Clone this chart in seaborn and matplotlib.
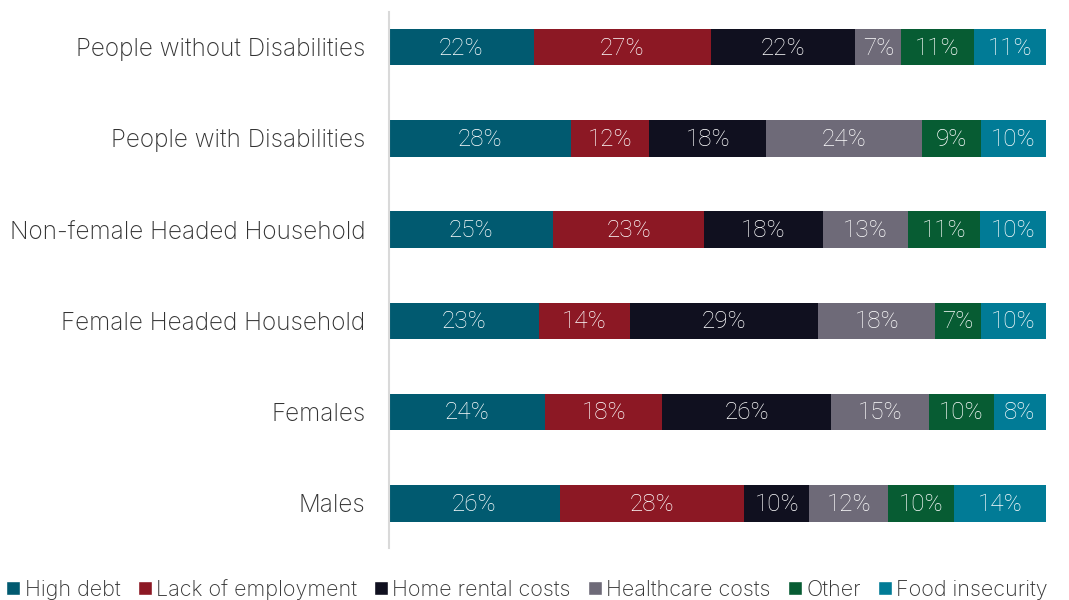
import matplotlib
matplotlib.use("Agg")
import matplotlib.pyplot as plt
import seaborn as sns
import pandas as pd
import numpy as np
from matplotlib.patches import Patch

groups = ["People without Disabilities", "People with Disabilities",
          "Non-female Headed Household", "Female Headed Household",
          "Females", "Males"]
series = ["High debt", "Lack of employment", "Home rental costs",
          "Healthcare costs", "Other", "Food insecurity"]
high_debt = [22, 28, 25, 23, 24, 26]
lack_employment = [27, 12, 23, 14, 18, 28]
home_rental = [22, 18, 18, 29, 26, 10]
healthcare = [7, 24, 13, 18, 15, 12]
other = [11, 9, 11, 7, 10, 10]
food_insecurity = [11, 10, 10, 10, 8, 14]
colors = ["#015a70", "#8c1824", "#10101f", "#6e6a78", "#075c33", "#017b96"]

sns.set_theme(style="white")
plt.rcParams['font.family'] = ['Inter', 'DejaVu Sans']

df = pd.DataFrame({"group": groups, "High debt": high_debt,
                   "Lack of employment": lack_employment,
                   "Home rental costs": home_rental,
                   "Healthcare costs": healthcare, "Other": other,
                   "Food insecurity": food_insecurity})
vals = df[series]
shares = vals.div(vals.sum(axis=1), axis=0) * 100

fig = plt.figure(figsize=(10.69, 6.0), dpi=100)
ax = fig.add_axes([389/1069, 52/600, 657/1069, 536/600])

left = np.zeros(len(groups))
for s, c in zip(series, colors):
    d = pd.DataFrame({"group": groups, "w": shares[s].values, "left": left})
    sns.barplot(data=d, x="w", y="group", left=d["left"], color=c,
                width=0.4, ax=ax, orient="h", saturation=1, linewidth=0)
    for i, (w, l, v) in enumerate(zip(shares[s].values, left, vals[s].values)):
        ax.text(l + w / 2, i + 0.01, f"{v}%", ha="center", va="center",
                color="white", fontsize=17.5, fontfamily="Roboto",
                fontweight="light")
    left = left + shares[s].values

ax.set_xlim(0, 100)
ax.set_ylim(5.49, -0.385)
ax.set_xlabel("")
ax.set_ylabel("")
ax.set_xticks([])
ax.tick_params(axis="y", length=0, pad=17, labelsize=17.5, labelcolor="#333333")
for lab in ax.get_yticklabels():
    lab.set_fontweight("light")
for sp in ["top", "right", "bottom"]:
    ax.spines[sp].set_visible(False)
ax.spines["left"].set_color("#d9d9d9")
ax.spines["left"].set_linewidth(1.5)

handles = [Patch(facecolor=c, label=s) for s, c in zip(series, colors)]
fig.legend(handles=handles, loc="center left", bbox_to_anchor=(0.006, 0.018),
           ncol=6, frameon=False, prop={"size": 15.5, "weight": "light"},
           handlelength=0.65, handleheight=0.65, handletextpad=0.2,
           columnspacing=0.8, labelcolor="#333333", borderaxespad=0,
           borderpad=0)

fig.savefig("out.png", dpi=100)
